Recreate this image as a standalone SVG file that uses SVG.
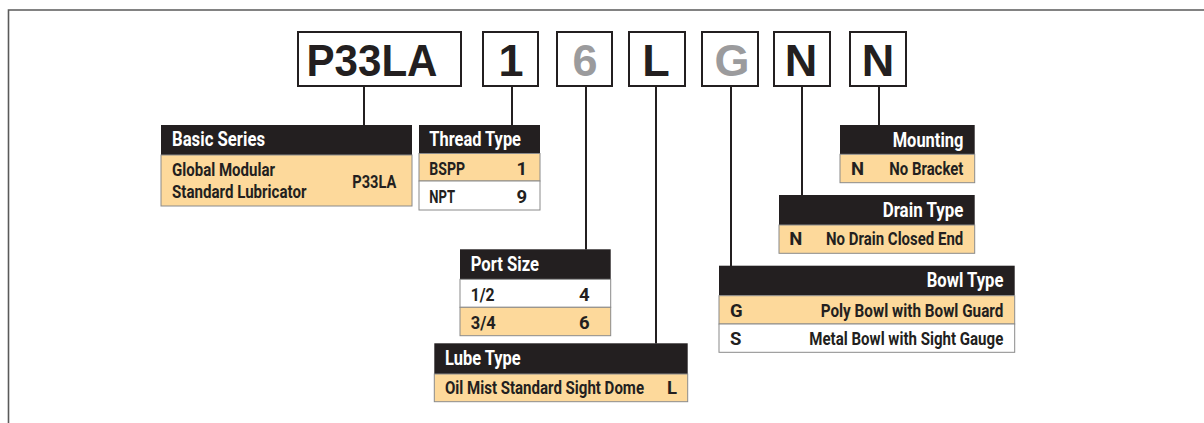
<svg xmlns="http://www.w3.org/2000/svg" width="1204" height="423" viewBox="0 0 1204 423">
<style>
.frame{fill:none;stroke:#5a5a5a;stroke-width:1.6}
.code{fill:#fff;stroke:#231f20;stroke-width:2}
.ct{font-family:"Liberation Sans",Arial,sans-serif;font-weight:700;font-size:45px;fill:#231f20;text-anchor:middle}
.ct.g{fill:#9b9b9d}
.hd{fill:#231f20}
.or{fill:#fdd99b;stroke:#8a8a8a;stroke-width:1}
.wh{fill:#fff;stroke:#8a8a8a;stroke-width:1}
.ht{font-family:"Liberation Sans Narrow","Roboto",sans-serif;font-weight:700;font-size:19.5px;fill:#fff}
.bt{font-family:"Liberation Sans Narrow","Roboto",sans-serif;font-weight:700;font-size:18.5px;fill:#231f20}
.end{text-anchor:end}
.conn line{stroke:#231f20;stroke-width:2}
</style>
<path class="frame" d="M8.5,423 V10 H1204"/>
<g class="conn" id="connectors">
<line x1="364" y1="86" x2="364" y2="125"/>
<line x1="512" y1="86" x2="512" y2="125"/>
<line x1="586" y1="86" x2="586" y2="249.5"/>
<line x1="656" y1="86" x2="656" y2="343.5"/>
<line x1="731" y1="86" x2="731" y2="266"/>
<line x1="802" y1="86" x2="802" y2="195"/>
<line x1="879" y1="86" x2="879" y2="125"/>
</g>
<g id="code-series"><rect class="code" x="298" y="32" width="163" height="54"/><text class="ct" x="372" y="76" textLength="131" lengthAdjust="spacingAndGlyphs">P33LA</text></g>
<g id="code-thread"><rect class="code" x="483" y="32" width="55" height="54"/><text class="ct" x="511" y="76">1</text></g>
<g id="code-port"><rect class="code" x="557" y="32" width="55" height="54"/><text class="ct g" x="585" y="76">6</text></g>
<g id="code-lube"><rect class="code" x="629" y="32" width="56" height="54"/><text class="ct" x="656" y="76">L</text></g>
<g id="code-bowl"><rect class="code" x="702" y="32" width="56" height="54"/><text class="ct g" x="732" y="76">G</text></g>
<g id="code-drain"><rect class="code" x="774" y="32" width="56" height="54"/><text class="ct" x="801" y="76">N</text></g>
<g id="code-mount"><rect class="code" x="850" y="32" width="56" height="54"/><text class="ct" x="878" y="76">N</text></g>

<g id="basic-series">
<rect class="hd" x="161" y="125" width="251" height="30"/>
<rect class="or" x="161" y="155" width="251" height="51"/>
<text class="ht" x="172" y="146" textLength="93" lengthAdjust="spacingAndGlyphs">Basic Series</text>
<text class="bt" x="172" y="176" textLength="103" lengthAdjust="spacingAndGlyphs">Global Modular</text>
<text class="bt" x="172" y="198" textLength="134.5" lengthAdjust="spacingAndGlyphs">Standard Lubricator</text>
<text class="bt" x="352.3" y="187.5" textLength="44" lengthAdjust="spacingAndGlyphs">P33LA</text>
</g>
<g id="thread-type">
<rect class="hd" x="419" y="125" width="121" height="28.5"/>
<rect class="or" x="419" y="153.5" width="121" height="27.5"/>
<rect class="wh" x="419" y="181" width="121" height="29"/>
<text class="ht" x="429.3" y="146" textLength="91.7" lengthAdjust="spacingAndGlyphs">Thread Type</text>
<text class="bt" x="429.3" y="175" textLength="35.7" lengthAdjust="spacingAndGlyphs">BSPP</text>
<text class="bt end" x="527" y="175">1</text>
<text class="bt" x="429.3" y="203.3" textLength="25.7" lengthAdjust="spacingAndGlyphs">NPT</text>
<text class="bt end" x="527" y="203.3">9</text>
</g>
<g id="port-size">
<rect class="hd" x="460" y="249.3" width="150.7" height="30"/>
<rect class="wh" x="460" y="279.3" width="150.7" height="28"/>
<rect class="or" x="460" y="307.3" width="150.7" height="28.4"/>
<text class="ht" x="470.7" y="270.7" textLength="68.3" lengthAdjust="spacingAndGlyphs">Port Size</text>
<text class="bt" x="470.7" y="301.3" textLength="24" lengthAdjust="spacingAndGlyphs">1/2</text>
<text class="bt end" x="589.5" y="301.3">4</text>
<text class="bt" x="470.7" y="329" textLength="25" lengthAdjust="spacingAndGlyphs">3/4</text>
<text class="bt end" x="589.5" y="329">6</text>
</g>
<g id="lube-type">
<rect class="hd" x="434.3" y="343.3" width="253.4" height="30.7"/>
<rect class="or" x="434.3" y="374" width="253.4" height="27.7"/>
<text class="ht" x="445" y="365" textLength="75.7" lengthAdjust="spacingAndGlyphs">Lube Type</text>
<text class="bt" x="445" y="394.3" textLength="199" lengthAdjust="spacingAndGlyphs">Oil Mist Standard Sight Dome</text>
<text class="bt end" x="677" y="394.3">L</text>
</g>
<g id="mounting">
<rect class="hd" x="840" y="125" width="134.7" height="29.3"/>
<rect class="or" x="840" y="154.3" width="134.7" height="28.4"/>
<text class="ht" x="892.7" y="146.7" textLength="70.7" lengthAdjust="spacingAndGlyphs">Mounting</text>
<text class="bt" x="851" y="175.3">N</text>
<text class="bt" x="889.3" y="175.3" textLength="74" lengthAdjust="spacingAndGlyphs">No Bracket</text>
</g>
<g id="drain-type">
<rect class="hd" x="779" y="195" width="195.7" height="30"/>
<rect class="or" x="779" y="225" width="195.7" height="28.3"/>
<text class="ht" x="882.7" y="216.7" textLength="80.7" lengthAdjust="spacingAndGlyphs">Drain Type</text>
<text class="bt" x="789.3" y="245">N</text>
<text class="bt" x="826" y="245" textLength="137.3" lengthAdjust="spacingAndGlyphs">No Drain Closed End</text>
</g>
<g id="bowl-type">
<rect class="hd" x="719" y="265.7" width="295.7" height="30"/>
<rect class="or" x="719" y="295.7" width="295.7" height="28.3"/>
<rect class="wh" x="719" y="324" width="295.7" height="28.3"/>
<text class="ht" x="926.7" y="287.3" textLength="76.7" lengthAdjust="spacingAndGlyphs">Bowl Type</text>
<text class="bt" x="730" y="316.7">G</text>
<text class="bt" x="820.7" y="316.7" textLength="182.7" lengthAdjust="spacingAndGlyphs">Poly Bowl with Bowl Guard</text>
<text class="bt" x="730" y="345">S</text>
<text class="bt" x="809.3" y="345" textLength="194" lengthAdjust="spacingAndGlyphs">Metal Bowl with Sight Gauge</text>
</g>
</svg>
